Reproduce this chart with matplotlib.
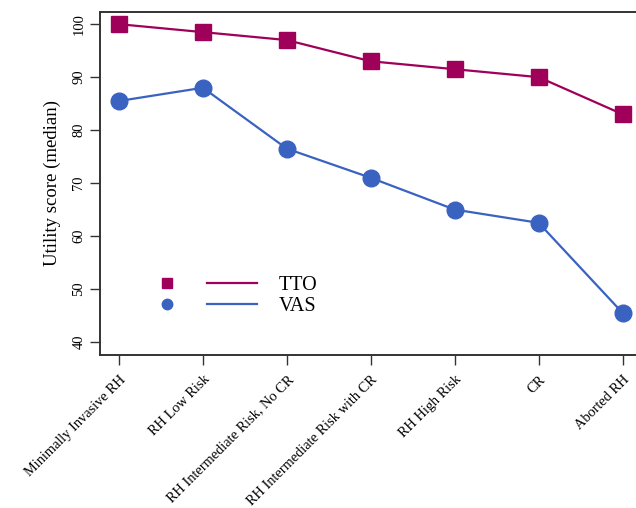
import matplotlib
matplotlib.use("Agg")
import matplotlib.pyplot as plt
from matplotlib.lines import Line2D

categories = ["Minimally Invasive RH", "RH Low Risk", "RH Intermediate Risk, No CR",
              "RH Intermediate Risk with CR", "RH High Risk", "CR", "Aborted RH"]
tto = [100, 98.5, 97, 93, 91.5, 90, 83]
vas = [85.5, 88, 76.5, 71, 65, 62.5, 45.5]
yticks = [40, 50, 60, 70, 80, 90, 100]

TTO_C = "#9e005a"
VAS_C = "#3a62c0"

plt.rcParams['font.family'] = ['Liberation Serif', 'DejaVu Serif']

fig = plt.figure(figsize=(6.36, 5.08), dpi=100)
ax = fig.add_axes([100/636, 1-355/508, (636-100)/636, (355-12)/508])

x = list(range(len(categories)))
ax.plot(x, tto, color=TTO_C, lw=1.6, marker='s', ms=11.5, zorder=3, clip_on=False)
ax.plot(x, vas, color=VAS_C, lw=1.6, marker='o', ms=12, zorder=3, clip_on=False)

ax.set_xlim(-0.226, 6.16)
ax.set_ylim(37.55, 102.3)
ax.set_yticks(yticks)
ax.set_yticklabels([str(v) for v in yticks], rotation=90, va='center', fontsize=10.5)
ax.set_xticks(x)
ax.set_xticklabels(categories, rotation=45, ha='right', rotation_mode='anchor', fontsize=10.4)
ax.tick_params(axis='both', length=7, width=1, color='#333333')
ax.tick_params(axis='x', pad=6)
ax.set_ylabel("Utility score (median)", fontsize=13.5, labelpad=8)

for s in ['left', 'bottom', 'top']:
    ax.spines[s].set_color('#333333')
    ax.spines[s].set_linewidth(1.4)
ax.spines['right'].set_visible(False)

h = [Line2D([], [], color=TTO_C, marker='s', ls='none', ms=7),
     Line2D([], [], color=VAS_C, marker='o', ls='none', ms=7.5),
     Line2D([], [], color=TTO_C, lw=1.6),
     Line2D([], [], color=VAS_C, lw=1.6)]
ax.legend(h, ['', '', 'TTO', 'VAS'], ncol=2, frameon=False, fontsize=14.5,
          loc='upper left', bbox_to_anchor=(0.079, 0.23), handlelength=2.45,
          handletextpad=1.1, columnspacing=-0.33, labelspacing=0.1,
          borderpad=0, borderaxespad=0)

fig.savefig("out.png", dpi=100)
